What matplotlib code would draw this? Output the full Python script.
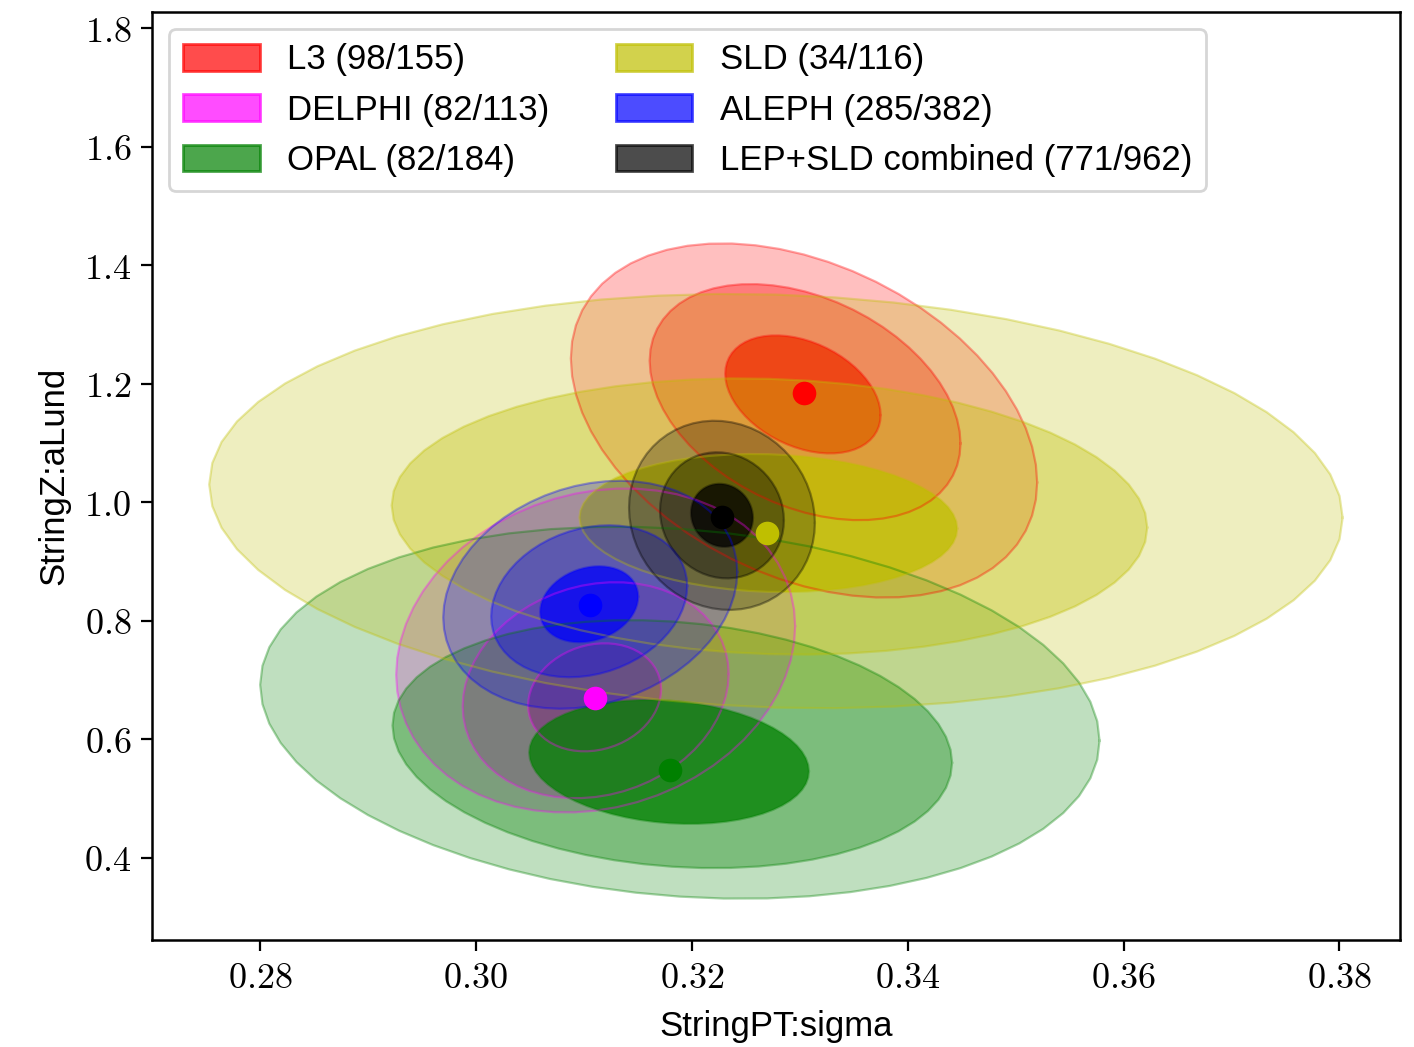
import numpy as np
import matplotlib
matplotlib.use("Agg")
import matplotlib.pyplot as plt
from matplotlib.patches import Patch
from matplotlib.ticker import FuncFormatter

plt.rcParams['font.family'] = ['Liberation Sans', 'DejaVu Sans']
plt.rcParams['mathtext.fontset'] = 'cm'

# experiments (legend order)
names = ['L3 (98/155)', 'DELPHI (82/113)', 'OPAL (82/184)',
         'SLD (34/116)', 'ALEPH (285/382)', 'LEP+SLD combined (771/962)']
colors = ['red', 'magenta', 'green', 'y', 'blue', 'black']

# best fit points
best_x = [0.3304, 0.3110, 0.3180, 0.3270, 0.3106, 0.3228]
best_y = [1.184, 0.669, 0.548, 0.948, 0.826, 0.975]

# contour centres for the 1, 2, 3 sigma levels
cen_x = [[0.3303, 0.3305, 0.3304],
         [0.3110, 0.3111, 0.3111],
         [0.3179, 0.3182, 0.3189],
         [0.3271, 0.3272, 0.3278],
         [0.3105, 0.3105, 0.3106],
         [0.3228, 0.3228, 0.3228]]
cen_y = [[1.182, 1.169, 1.138],
         [0.671, 0.683, 0.750],
         [0.562, 0.592, 0.645],
         [0.965, 0.976, 1.002],
         [0.828, 0.833, 0.844],
         [0.978, 0.978, 0.978]]

# 1 sigma widths and correlation
sig_x = [0.0072, 0.00616, 0.01296, 0.0175, 0.00454, 0.00287]
sig_y = [0.0996, 0.0911, 0.1046, 0.1165, 0.0641, 0.0532]
rho = [-0.35, 0.15, -0.15, -0.08, 0.2, -0.08]

levels = [3, 2, 1]
level_alpha = {3: 0.25, 2: 0.35, 1: 0.75}

fig = plt.figure(figsize=(7.07, 5.235), dpi=200)
ax = fig.add_axes([0.1075, 0.1022, 0.8825, 0.8863])

t = np.linspace(0, 2*np.pi, 61)
for i in range(len(names)):
    for k in levels:
        cx = cen_x[i][k-1]
        cy = cen_y[i][k-1]
        ex = cx + k*sig_x[i]*np.cos(t)
        ey = cy + k*sig_y[i]*(rho[i]*np.cos(t) + np.sqrt(1-rho[i]**2)*np.sin(t))
        ax.fill(ex, ey, facecolor=colors[i], alpha=level_alpha[k], lw=0)
        ax.plot(ex, ey, color=colors[i], alpha=0.35, lw=0.8)

for i in range(len(names)):
    ax.plot(best_x[i], best_y[i], 'o', color=colors[i], ms=8.5, mew=0)

ax.set_xlim(0.2700, 0.3856)
ax.set_ylim(0.2616, 1.827)
ax.set_xticks([0.28, 0.30, 0.32, 0.34, 0.36, 0.38])
ax.set_yticks([0.4, 0.6, 0.8, 1.0, 1.2, 1.4, 1.6, 1.8])
ax.xaxis.set_major_formatter(FuncFormatter(lambda v, p: '$%.2f$' % v))
ax.yaxis.set_major_formatter(FuncFormatter(lambda v, p: '$%.1f$' % v))
ax.tick_params(labelsize=13, length=4, width=0.8)
for s in ax.spines.values():
    s.set_linewidth(0.9)

ax.set_xlabel('StringPT:sigma', fontsize=12.5, labelpad=5)
ax.set_ylabel('StringZ:aLund', fontsize=12.5, labelpad=5)

handles = [Patch(facecolor=c, edgecolor=c, alpha=0.7) for c in colors]
ax.legend(handles, names, loc='upper left', ncol=2, fontsize=12.5,
          handlelength=2.2, handleheight=0.8, columnspacing=1.9)

fig.savefig('out.png', dpi=200)
